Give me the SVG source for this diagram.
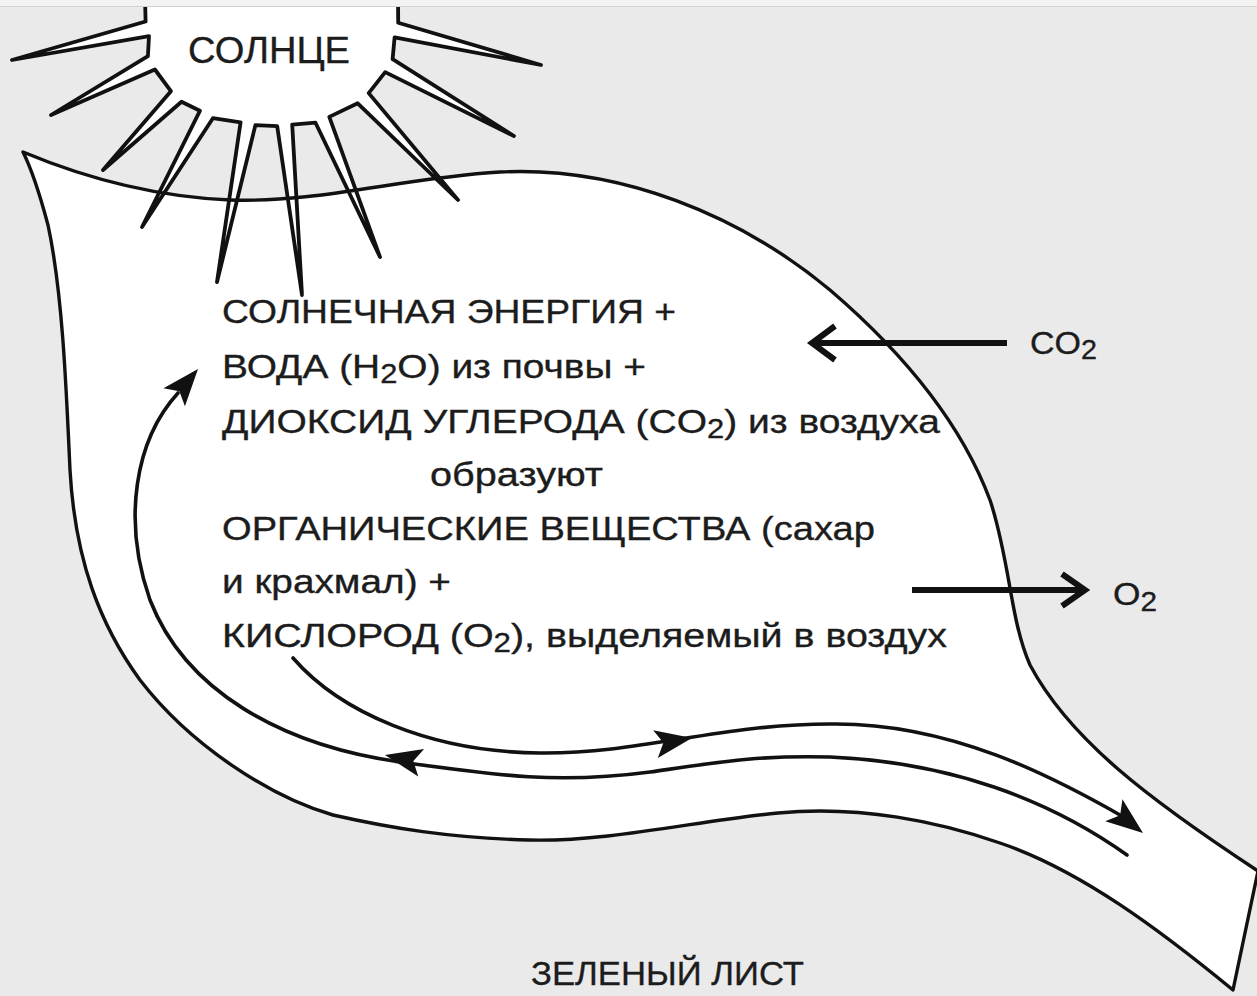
<svg xmlns="http://www.w3.org/2000/svg" xmlns:xlink="http://www.w3.org/1999/xlink" width="1257" height="996" viewBox="0 0 1257 996">
  <style>
    .bg { fill: #eaeaea; }
    .outline { fill: none; stroke: #111; stroke-width: 3.4; stroke-linejoin: round; }
    .paper { fill: #fff; stroke: none; }
    .sun { fill: #fff; stroke: #111; stroke-width: 3.8; stroke-linejoin: round; }
    .flow { fill: none; stroke: #111; stroke-width: 3.6; stroke-linecap: round; }
    .gas { fill: none; stroke: #111; stroke-width: 6; stroke-linejoin: miter; }
    .head { fill: #111; }
    text { font-family: "Liberation Sans", Arial, sans-serif; fill: #1c1c1c; stroke: #1c1c1c; stroke-width: 0.35; }
    .main { font-size: 34px; }
    .sub { font-size: 27px; }
  </style>
  <defs>
    <!-- leaf outline: blade, right edge and stem -->
    <path id="leaf-shape" d="M23,152 C90,180 160,197 230,200 C320,203 400,178 500,172 C620,166 740,215 830,290 C900,350 960,420 990,500 C1010,560 1010,620 1030,665 C1070,740 1150,800 1258,871 L1233,990 C1160,930 1080,870 1000,843 C940,822 860,805 778,813 C700,820 610,842 529,840 C450,838 390,828 333,815 C270,797 190,745 140,680 C100,625 75,560 70,470 C66,380 62,290 48,225 C40,195 32,170 23,152 Z"/>
    <!-- filled arrowhead, tip at origin, pointing along +x -->
    <path id="arrowhead" d="M0,0 L-37,-14 L-29,0 L-37,14 Z"/>
  </defs>

  <rect class="bg" x="0" y="0" width="1257" height="996"/>

  <g id="leaf-fill">
    <use xlink:href="#leaf-shape" class="paper"/>
  </g>

  <g id="sun">
    <path class="sun" d="M145,-4 L145.6,21.5 L12,60 L149,36.1 L147.9,56.1 L51,115 L154.9,69.5 L170.9,91.2 L103,170 L181.5,101.8 L199.9,110.8 L142,227 L212.9,118.2 L240.6,122.3 L217,282 L255.4,125.1 L277.2,126.2 L302,295 L292.2,124.6 L315.5,122.7 L380,257 L329.3,116.9 L357.7,103.3 L458,200 L368.7,93.1 L385.2,72.1 L514,136 L392.6,59.1 L394.6,37.4 L541,65 L398.2,22.8 L398,-4 Z"/>
    <text x="188" y="63" font-size="36" textLength="162" lengthAdjust="spacingAndGlyphs">СОЛНЦЕ</text>
  </g>

  <g id="leaf">
    <use xlink:href="#leaf-shape" class="outline"/>
  </g>

  <g id="connectors">
    <!-- transport towards the stem -->
    <path id="flow-out" class="flow" d="M293,658 C340,712 430,752 540,753 C640,754 720,724 830,724 C950,722 1055,778 1120,815"/>
    <use xlink:href="#arrowhead" class="head" transform="translate(692,738) rotate(-9.5)"/>
    <use xlink:href="#arrowhead" class="head" transform="translate(1143,833) rotate(38)"/>
    <!-- transport from the stem into the blade -->
    <path id="flow-in" class="flow" d="M178,393 C135,440 122,520 150,600 C185,690 280,745 400,762 C500,776 560,784 650,772 C720,762 760,755 830,757 C950,762 1050,800 1127,855"/>
    <use xlink:href="#arrowhead" class="head" transform="translate(385,755) rotate(192)"/>
    <use xlink:href="#arrowhead" class="head" transform="translate(198,369) rotate(-50)"/>
    <!-- gas exchange -->
    <g id="co2-in">
      <path class="gas" d="M1007,343 L814,343"/>
      <path class="gas" d="M835,326 L812,343 L835,360"/>
    </g>
    <g id="o2-out">
      <path class="gas" d="M912,590 L1084,590"/>
      <path class="gas" d="M1062,574 L1085,590 L1062,606"/>
    </g>
  </g>

  <g id="formula" class="main">
    <text x="222" y="323" textLength="454" lengthAdjust="spacingAndGlyphs">СОЛНЕЧНАЯ ЭНЕРГИЯ +</text>
    <text x="222" y="378" textLength="424" lengthAdjust="spacingAndGlyphs">ВОДА (H<tspan class="sub" dy="5">2</tspan><tspan dy="-5">O) из почвы +</tspan></text>
    <text x="222" y="433" textLength="718" lengthAdjust="spacingAndGlyphs">ДИОКСИД УГЛЕРОДА (CO<tspan class="sub" dy="5">2</tspan><tspan dy="-5">) из воздуха</tspan></text>
    <text x="430" y="486" textLength="173" lengthAdjust="spacingAndGlyphs">образуют</text>
    <text x="222" y="540" textLength="653" lengthAdjust="spacingAndGlyphs">ОРГАНИЧЕСКИЕ ВЕЩЕСТВА (сахар</text>
    <text x="222" y="593" textLength="229" lengthAdjust="spacingAndGlyphs">и крахмал) +</text>
    <text x="222" y="647" textLength="725" lengthAdjust="spacingAndGlyphs">КИСЛОРОД (O<tspan class="sub" dy="5">2</tspan><tspan dy="-5">), выделяемый в воздух</tspan></text>
  </g>

  <g id="co2-label" class="main">
    <text x="1030" y="354" font-size="32" textLength="67" lengthAdjust="spacingAndGlyphs">CO<tspan class="sub" dy="5">2</tspan></text>
  </g>

  <g id="o2-label" class="main">
    <text x="1113" y="605" font-size="32" textLength="44" lengthAdjust="spacingAndGlyphs">O<tspan class="sub" dy="6">2</tspan></text>
  </g>

  <g id="caption">
    <text x="531" y="985" font-size="34" textLength="273" lengthAdjust="spacingAndGlyphs">ЗЕЛЕНЫЙ ЛИСТ</text>
  </g>

  <!-- thin strip along the top edge -->
  <rect x="0" y="0" width="1257" height="6" fill="#f3f3f3"/>
  <line x1="0" y1="6.5" x2="1257" y2="6.5" stroke="#d2d2d2" stroke-width="1"/>
</svg>
